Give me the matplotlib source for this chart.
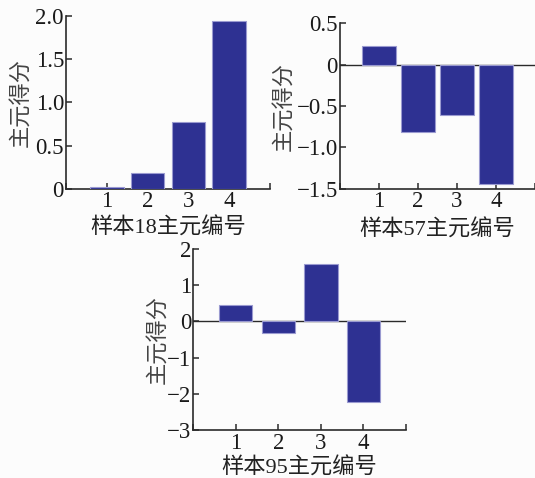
import matplotlib
matplotlib.use("Agg")
import matplotlib.pyplot as plt

plt.rcParams['font.family'] = ['Liberation Serif', 'Noto Sans CJK SC']
plt.rcParams['axes.unicode_minus'] = True

components = [1, 2, 3, 4]
sample18 = [0.02, 0.185, 0.77, 1.945]
sample57 = [0.22, -0.82, -0.61, -1.44]
sample95 = [0.445, -0.33, 1.58, -2.24]

ylabel = "主元得分"
xlabels = ["样本18主元编号", "样本57主元编号", "样本95主元编号"]

yticks18 = [0, 0.5, 1.0, 1.5, 2.0]
yticklabels18 = ["0", "0.5", "1.0", "1.5", "2.0"]
yticks57 = [-1.5, -1.0, -0.5, 0, 0.5]
yticklabels57 = ["\u22121.5", "\u22121.0", "\u22120.5", "0", "0.5"]
yticks95 = [-3, -2, -1, 0, 1, 2]
yticklabels95 = ["\u22123", "\u22122", "\u22121", "0", "1", "2"]

bar_color = '#2e3192'
edge_color = '#9a9ad0'
axis_color = '#2a2a2a'
fs = 16.5
fs_cjk = 16

fig = plt.figure(figsize=(5.35, 4.78), dpi=100)
fig.patch.set_facecolor('#fcfcfc')

specs = [
    dict(rect=[0.1234, 0.6052, 0.3813, 0.3613], data=sample18, ylim=(0, 2.0),
         yt=yticks18, ytl=yticklabels18, xl=xlabels[0], zero=False,
         ylc=-0.225, xlc=-0.228, width=0.82),
    dict(rect=[0.6355, 0.6052, 0.3645, 0.346], data=sample57, ylim=(-1.5, 0.5),
         yt=yticks57, ytl=yticklabels57, xl=xlabels[1], zero=True,
         ylc=-0.292, xlc=-0.25, width=0.86),
    dict(rect=[0.3613, 0.1004, 0.3976, 0.3787], data=sample95, ylim=(-3, 2),
         yt=yticks95, ytl=yticklabels95, xl=xlabels[2], zero=True,
         ylc=-0.172, xlc=-0.21, width=0.78),
]

for s in specs:
    ax = fig.add_axes(s['rect'])
    ax.set_facecolor('none')
    ax.bar(components, s['data'], width=s['width'], color=bar_color,
           edgecolor=edge_color, linewidth=0.8, zorder=3)
    ax.set_xlim(0, 5)
    ax.set_ylim(*s['ylim'])
    if s['zero']:
        ax.axhline(0, color=axis_color, linewidth=1.0, zorder=2)
    for side in ['top', 'right']:
        ax.spines[side].set_visible(False)
    for side in ['left', 'bottom']:
        ax.spines[side].set_color(axis_color)
        ax.spines[side].set_linewidth(1.2)
    ax.set_xticks([0, 1, 2, 3, 4, 5])
    ax.set_xticklabels(['', '1', '2', '3', '4', ''])
    ax.set_yticks(s['yt'])
    ax.set_yticklabels(s['ytl'])
    ax.tick_params(axis='both', direction='in', length=4.5, width=1.1,
                   color=axis_color, labelsize=fs, labelcolor='#1a1a1a')
    ax.tick_params(axis='y', pad=1.5)
    ax.tick_params(axis='x', pad=2)
    ax.set_ylabel(ylabel, fontsize=fs_cjk, color='#444444',
                  family=['Noto Sans CJK SC'], fontweight='light')
    ax.yaxis.set_label_coords(s['ylc'], 0.5)
    ax.yaxis.label.set_va('center')
    ax.set_xlabel(s['xl'], fontsize=fs_cjk, color='#222222', fontweight='light')
    ax.xaxis.set_label_coords(0.5, s['xlc'])
    ax.xaxis.label.set_va('center')

fig.savefig('out.png', dpi=100, facecolor=fig.get_facecolor())
